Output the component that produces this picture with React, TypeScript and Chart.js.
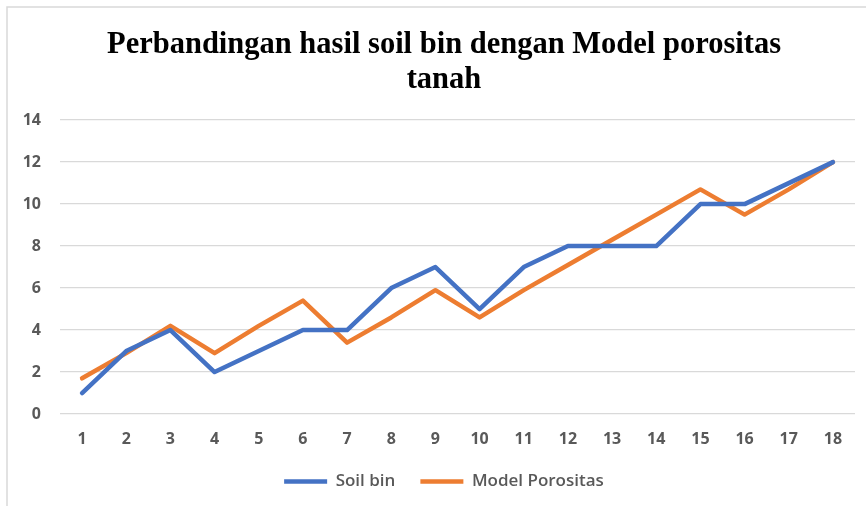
import React, { useEffect, useRef } from "react";
import { Chart, registerables } from "chart.js";

Chart.register(...registerables);

const categories = ["1","2","3","4","5","6","7","8","9","10","11","12","13","14","15","16","17","18"];
const soilBin = [1, 3, 4, 2, 3, 4, 4, 6, 7, 5, 7, 8, 8, 8, 10, 10, 11, 12];
const modelPorositas = [1.7, 2.9, 4.2, 2.9, 4.2, 5.4, 3.4, 4.6, 5.9, 4.6, 5.9, 7.1, 8.3, 9.5, 10.7, 9.5, 10.7, 12];
const titleLines = ["Perbandingan hasil soil bin dengan Model porositas", "tanah"];
const seriesNames = ["Soil bin", "Model Porositas"];

const W = 866;
const H = 506;

const framePlugin = {
  id: "frame",
  beforeDraw(chart: any) {
    const ctx = chart.ctx;
    ctx.save();
    ctx.fillStyle = "#ffffff";
    ctx.fillRect(0, 0, chart.width, chart.height);
    ctx.strokeStyle = "#d9d9d9";
    ctx.lineWidth = 1.5;
    ctx.strokeRect(7, 7, 1000, 1000);
    ctx.restore();
  },
};

export default function App() {
  const ref = useRef<HTMLCanvasElement | null>(null);

  useEffect(() => {
    document.body.style.margin = "0";
    const canvas = ref.current;
    if (!canvas) return;
    const tickFont = { family: "'Open Sans', sans-serif", size: 16, weight: "bold" as const };
    const chart = new Chart(canvas, {
      type: "line",
      data: {
        labels: categories,
        datasets: [
          {
            label: seriesNames[0],
            data: soilBin,
            borderColor: "#4472C4",
            backgroundColor: "#4472C4",
            borderWidth: 4.5,
            pointRadius: 0,
            pointHoverRadius: 0,
            borderJoinStyle: "round",
            borderCapStyle: "round",
            tension: 0,
          },
          {
            label: seriesNames[1],
            data: modelPorositas,
            borderColor: "#ED7D31",
            backgroundColor: "#ED7D31",
            borderWidth: 4.5,
            pointRadius: 0,
            pointHoverRadius: 0,
            borderJoinStyle: "round",
            borderCapStyle: "round",
            tension: 0,
          },
        ],
      },
      options: {
        responsive: false,
        animation: false,
        layout: { padding: { left: 22, right: 0, top: 0, bottom: 6 } },
        scales: {
          x: {
            offset: true,
            grid: { display: false, drawTicks: false, offset: true },
            border: { display: false },
            ticks: { color: "#595959", font: tickFont, padding: 16, maxRotation: 0, autoSkip: false },
            afterFit(scale: any) {
              scale.height = 34;
            },
          },
          y: {
            min: 0,
            max: 14,
            grid: { color: "#d9d9d9", lineWidth: 1.3, drawTicks: false },
            border: { display: false },
            ticks: { stepSize: 2, color: "#595959", font: tickFont, padding: 19 },
            afterFit(scale: any) {
              scale.width = 38;
            },
          },
          yRight: {
            position: "right",
            display: true,
            min: 0,
            max: 14,
            grid: { display: false, drawTicks: false },
            border: { display: false },
            ticks: { display: false },
            afterFit(scale: any) {
              scale.width = 11;
            },
          },
        },
        plugins: {
          title: {
            display: true,
            text: titleLines,
            color: "#000000",
            font: { family: "'Liberation Serif', 'Times New Roman', serif", size: 30.5, weight: "bold", lineHeight: 1.15 },
            padding: { top: 28, bottom: 22 },
          },
          legend: {
            display: true,
            position: "bottom",
            labels: {
              usePointStyle: true,
              pointStyle: "line",
              pointStyleWidth: 43,
              color: "#595959",
              font: { family: "'Open Sans', sans-serif", size: 17, weight: 600 },
              padding: 25,
            },
          },
          tooltip: { enabled: false },
        },
      },
      plugins: [framePlugin],
    });
    return () => chart.destroy();
  }, []);

  return (
    <div style={{ position: "fixed", left: 0, top: 0, width: W, height: H }}>
      <canvas ref={ref} width={W} height={H} />
    </div>
  );
}
